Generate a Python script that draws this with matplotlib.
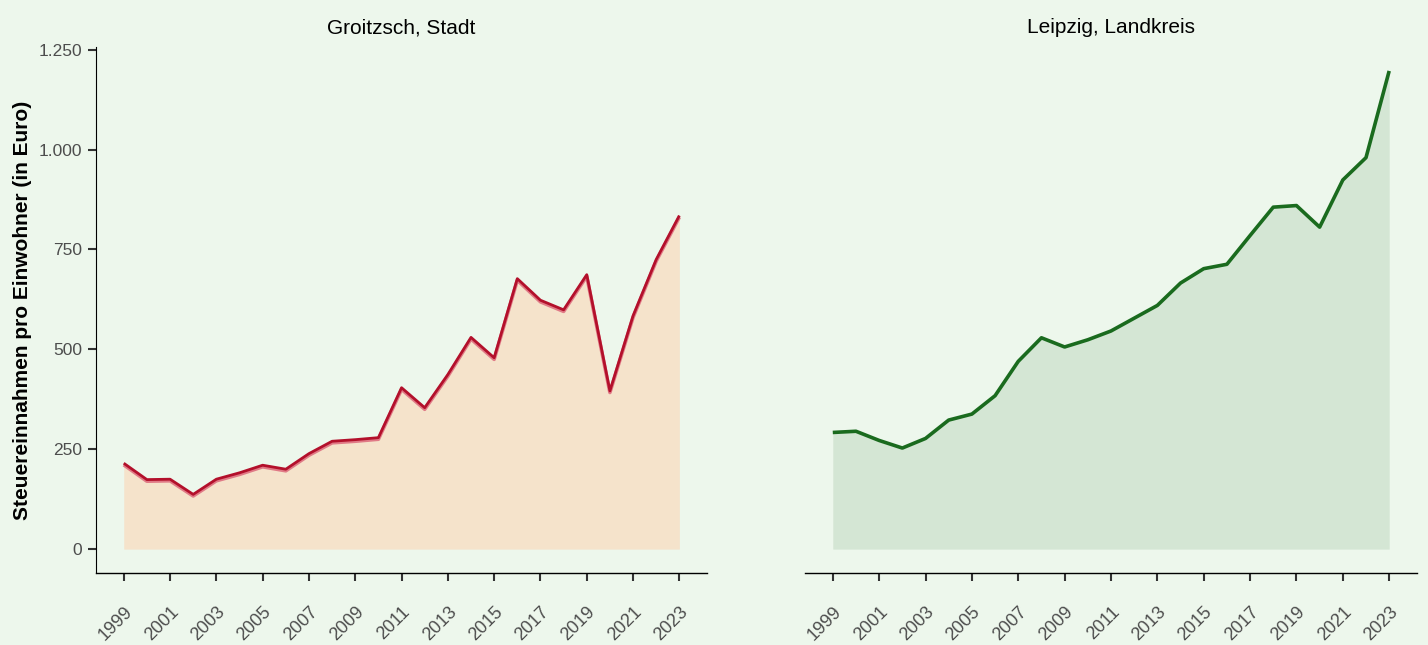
import numpy as np
import matplotlib
matplotlib.use("Agg")
import matplotlib.pyplot as plt
from matplotlib.ticker import FuncFormatter

years = list(range(1999, 2024))

groitzsch = [215, 174, 175, 137, 175, 191, 210, 200, 239, 270, 274, 279,
             404, 354, 437, 530, 479, 677, 623, 599, 687, 396, 584, 725, 835]

leipzig_lk = [292, 295, 272, 253, 277, 323, 338, 384, 470, 529, 506, 524,
              546, 578, 610, 666, 702, 713, 785, 856, 860, 806, 924, 980, 1197]

titles = ["Groitzsch, Stadt", "Leipzig, Landkreis"]
y_ticks = [0, 250, 500, 750, 1000, 1250]
x_ticks = list(range(1999, 2024, 2))

bg = "#EDF7EC"

plt.rcParams['font.family'] = ['Liberation Sans', 'DejaVu Sans']

fig = plt.figure(figsize=(14.28, 6.45), dpi=100, facecolor=bg)
ax1 = fig.add_axes([0.0672, 0.1116, 0.428, 0.8155])
ax2 = fig.add_axes([0.5637, 0.1116, 0.4286, 0.8155])

# Groitzsch: dark red line with a lighter red edge below it
ax1.set_facecolor(bg)
ax1.fill_between(years, 0, groitzsch, color="#F5E3CB", lw=0)
ax1.plot(years, np.array(groitzsch) - 4, color="#E07A86", lw=2.6, solid_capstyle='butt', zorder=3)
ax1.plot(years, groitzsch, color="#B3102B", lw=2.0, solid_capstyle='butt', zorder=4)

# Landkreis: dark green line
ax2.set_facecolor(bg)
ax2.fill_between(years, 0, leipzig_lk, color="#D4E6D4", lw=0)
ax2.plot(years, leipzig_lk, color="#1A6B1E", lw=2.6, solid_capstyle='butt', zorder=4)

for ax, title in zip([ax1, ax2], titles):
    ax.set_xlim(1997.8, 2024.2)
    ax.set_ylim(-59.85, 1256.85)
    ax.set_title(title, fontsize=15, color="black", pad=10)
    ax.set_xticks(x_ticks)
    ax.set_xticklabels([str(x) for x in x_ticks], rotation=45, ha='right',
                       va='top', rotation_mode='anchor')
    ax.tick_params(axis='x', length=6, width=1.5, color="#333333",
                   labelsize=13, labelcolor="#4D4D4D", pad=16)
    for s in ['top', 'right']:
        ax.spines[s].set_visible(False)
    ax.spines['bottom'].set_color("black")
    ax.spines['bottom'].set_linewidth(1.0)

ax1.set_yticks(y_ticks)
ax1.yaxis.set_major_formatter(FuncFormatter(lambda v, p: f"{int(v):,}".replace(",", ".")))
ax1.tick_params(axis='y', length=6, width=1.5, color="#333333",
                labelsize=12.5, labelcolor="#4D4D4D", pad=4)
ax1.spines['left'].set_color("black")
ax1.spines['left'].set_bounds(-59.85, 1256.85)
ax1.set_ylabel("Steuereinnahmen pro Einwohner (in Euro)", fontsize=15,
               fontweight='bold', labelpad=5)

ax2.spines['left'].set_visible(False)
ax2.set_yticks([])

fig.savefig("out.png", dpi=100, facecolor=bg)
